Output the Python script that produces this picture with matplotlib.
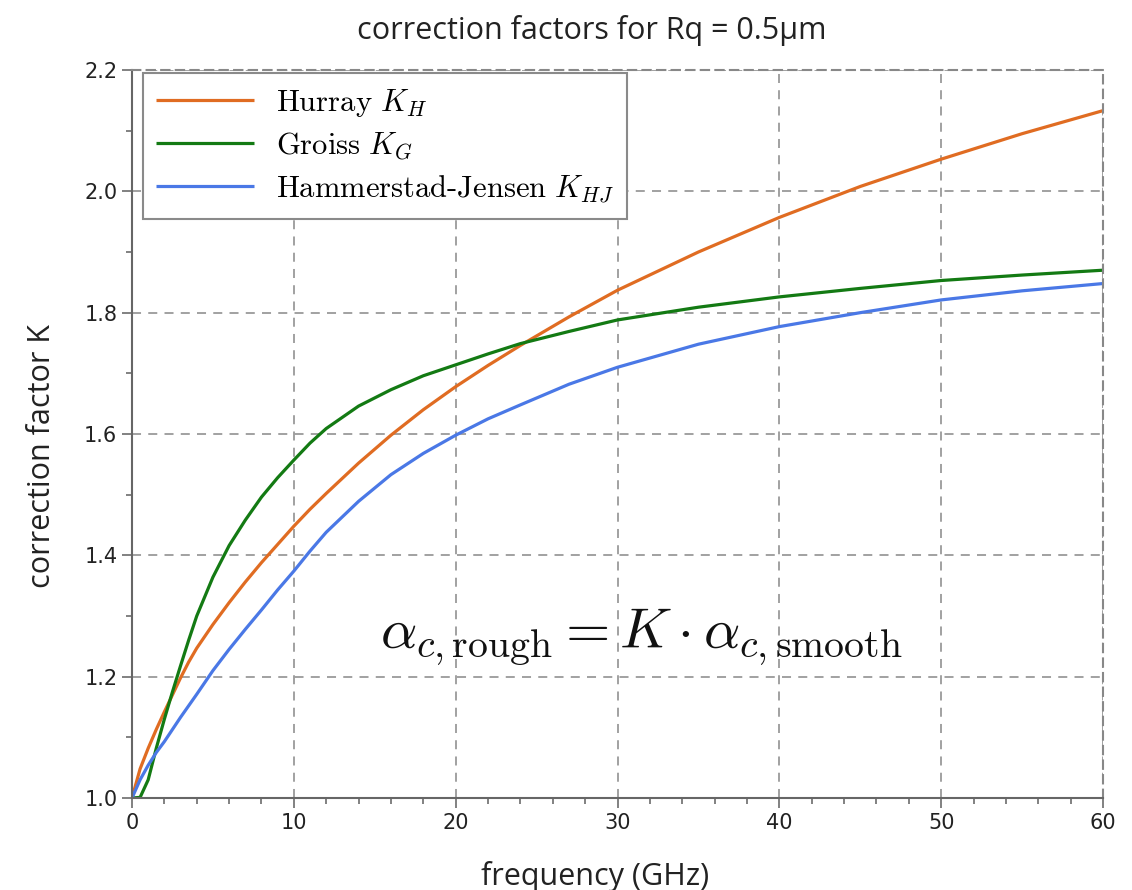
import matplotlib
matplotlib.use("Agg")
import matplotlib.pyplot as plt
from matplotlib.ticker import MultipleLocator, FormatStrFormatter

plt.rcParams['mathtext.fontset'] = 'cm'
plt.rcParams['font.family'] = ['DejaVu Sans']

# frequency samples (GHz) and correction factors for Rq = 0.5 um
freq_ghz = [0, 0.5, 1, 1.5, 2, 2.5, 3, 3.5, 4, 5, 6, 7, 8, 9, 10, 11, 12,
            14, 16, 18, 20, 22, 24, 27, 30, 35, 40, 45, 50, 55, 60]
k_huray = [1.000, 1.048, 1.082, 1.113, 1.142, 1.170, 1.198, 1.224, 1.247,
           1.286, 1.322, 1.356, 1.388, 1.418, 1.448, 1.476, 1.502, 1.552,
           1.598, 1.640, 1.678, 1.713, 1.746, 1.793, 1.837, 1.900, 1.957,
           2.008, 2.053, 2.095, 2.133]
k_groiss = [1.000, 1.001, 1.030, 1.082, 1.130, 1.175, 1.218, 1.260, 1.300,
            1.364, 1.416, 1.458, 1.496, 1.528, 1.557, 1.585, 1.609, 1.646,
            1.673, 1.696, 1.714, 1.732, 1.749, 1.769, 1.788, 1.809, 1.826,
            1.840, 1.853, 1.862, 1.870]
k_hj = [1.000, 1.030, 1.054, 1.075, 1.093, 1.113, 1.133, 1.152, 1.171,
        1.210, 1.245, 1.278, 1.310, 1.343, 1.374, 1.407, 1.438, 1.489,
        1.533, 1.568, 1.598, 1.625, 1.648, 1.682, 1.710, 1.748, 1.777,
        1.800, 1.821, 1.836, 1.848]

labels = [r'$\mathrm{Hurray}\ K_H$', r'$\mathrm{Groiss}\ K_G$',
          r'$\mathrm{Hammerstad\text{-}Jensen}\ K_{HJ}$']
colors = ['#e06c22', '#137a13', '#4a78e6']

fig = plt.figure(figsize=(11.32, 8.90), dpi=100)
ax = fig.add_axes([132 / 1132, 92 / 890, 971 / 1132, 728 / 890])

for ys, lab, col in zip([k_huray, k_groiss, k_hj], labels, colors):
    ax.plot(freq_ghz, ys, color=col, lw=2.3, label=lab, solid_capstyle='butt')

ax.set_xlim(0, 60)
ax.set_ylim(1.0, 2.2)
ax.xaxis.set_major_locator(MultipleLocator(10))
ax.xaxis.set_minor_locator(MultipleLocator(2))
ax.yaxis.set_major_locator(MultipleLocator(0.2))
ax.yaxis.set_minor_locator(MultipleLocator(0.1))
ax.yaxis.set_major_formatter(FormatStrFormatter('%.1f'))

ax.grid(True, which='major', color='#9a9a9a', linestyle=(0, (5, 4)), lw=1.3)
ax.tick_params(which='both', direction='out', color='#777777', labelsize=15,
               labelcolor='#222222', top=False, right=False)
ax.tick_params(which='major', length=7, width=1.3)
ax.tick_params(which='minor', length=4, width=1.3)
for side in ['left', 'bottom']:
    ax.spines[side].set_color('#666666')
    ax.spines[side].set_linewidth(1.5)
for side in ['top', 'right']:
    ax.spines[side].set_color('#888888')
    ax.spines[side].set_linewidth(1.5)
    ax.spines[side].set_linestyle((0, (4, 3)))

leg = ax.legend(loc='upper left', bbox_to_anchor=(0.011, 0.996), fontsize=22,
                fancybox=False, edgecolor='#8a8a8a', framealpha=1,
                handlelength=3.2, handletextpad=0.7, labelspacing=0.38,
                borderpad=0.45, borderaxespad=0)
leg.get_frame().set_linewidth(1.5)

ax.text(0.525, 0.22, r'$\alpha_{c,\mathrm{rough}} = K \cdot \alpha_{c,\mathrm{smooth}}$',
        transform=ax.transAxes, ha='center', va='center', fontsize=41,
        color='#111111')

sans = ['Open Sans', 'DejaVu Sans']
fig.text(592 / 1132, 1 - 31 / 890, 'correction factors for Rq = 0.5µm',
         ha='center', va='center', fontsize=22, family=sans, color='#222222')
fig.text(595 / 1132, 1 - 876 / 890, 'frequency (GHz)', ha='center',
         va='center', fontsize=22, family=sans, color='#222222')
fig.text(42 / 1132, 1 - 456 / 890, 'correction factor K', ha='center',
         va='center', rotation=90, fontsize=22, family=sans, color='#222222')

fig.savefig('out.png', dpi=100)
